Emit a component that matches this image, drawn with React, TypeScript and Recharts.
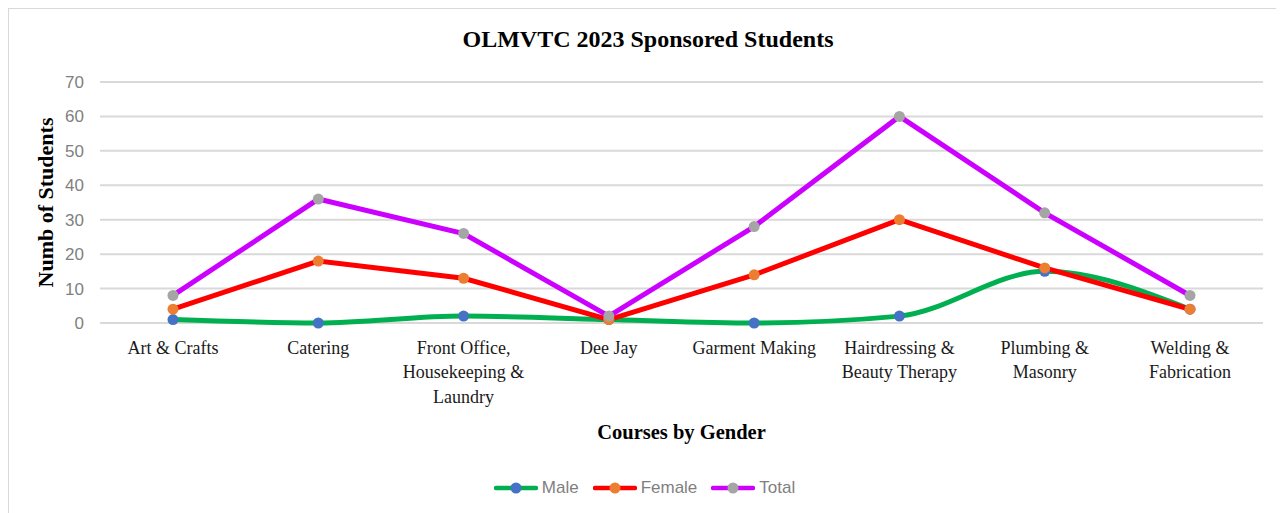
import { CartesianGrid, Legend, Line, LineChart, Text, XAxis, YAxis } from 'recharts';

// ---- data ----
const COURSES = [
  'Art & Crafts',
  'Catering',
  'Front Office, Housekeeping & Laundry',
  'Dee Jay',
  'Garment Making',
  'Hairdressing & Beauty Therapy',
  'Plumbing & Masonry',
  'Welding & Fabrication',
];
const MALE = [1, 0, 2, 1, 0, 2, 15, 4];
const FEMALE = [4, 18, 13, 1, 14, 30, 16, 4];
const TOTAL = [8, 36, 26, 2, 28, 60, 32, 8];
const Y_TICKS = [0, 10, 20, 30, 40, 50, 60, 70];

const SERIES = [
  { key: 'Male', line: '#00b050', dot: '#4472c4', curve: 'monotone' as const },
  { key: 'Female', line: '#ff0000', dot: '#ed7d31', curve: 'linear' as const },
  { key: 'Total', line: '#cc00ff', dot: '#a5a5a5', curve: 'linear' as const },
];

const data = COURSES.map((c, i) => ({
  course: c,
  Male: MALE[i],
  Female: FEMALE[i],
  Total: TOTAL[i],
}));

// ---- styles ----
const SERIF = '"Liberation Serif", "Times New Roman", serif';
const SANS = '"Liberation Sans", Arial, sans-serif';
const GRID = '#d9d9d9';
const AXIS_GRAY = '#7f7f7f';

function CourseTick(props: any) {
  const { x, y, payload } = props;
  return (
    <Text
      x={x}
      y={y}
      width={138}
      textAnchor="middle"
      verticalAnchor="start"
      lineHeight={24.5}
      fill="#1a1a1a"
      style={{ fontFamily: SERIF, fontSize: 18 }}
    >
      {payload.value}
    </Text>
  );
}

function LegendContent() {
  return (
    <div
      style={{
        height: 22,
        display: 'flex',
        justifyContent: 'center',
        alignItems: 'center',
        gap: 14,
        marginLeft: -14,
        fontFamily: SANS,
        fontSize: 17,
        color: AXIS_GRAY,
      }}
    >
      {SERIES.map((s) => (
        <span key={s.key} style={{ display: 'flex', alignItems: 'center', gap: 4 }}>
          <svg width={44} height={14}>
            <line x1={2} y1={7} x2={42} y2={7} stroke={s.line} strokeWidth={4.5} strokeLinecap="round" />
            <circle cx={22} cy={7} r={5.5} fill={s.dot} />
          </svg>
          {s.key}
        </span>
      ))}
    </div>
  );
}

export default function App() {
  return (
    <div
      style={{
        position: 'relative',
        width: 1272,
        height: 520,
        boxSizing: 'border-box',
        border: `1px solid ${GRID}`,
        background: '#fff',
      }}
    >
      <div
        style={{
          position: 'absolute',
          top: 17,
          left: 0,
          width: 1278,
          textAlign: 'center',
          fontFamily: SERIF,
          fontWeight: 'bold',
          fontSize: 24,
          color: '#000',
        }}
      >
        OLMVTC 2023 Sponsored Students
      </div>
      <LineChart
        width={1270}
        height={504}
        data={data}
        margin={{ top: 73, right: 16, left: 31, bottom: 14 }}
      >
        <CartesianGrid vertical={false} stroke={GRID} strokeWidth={2} />
        <XAxis
          dataKey="course"
          axisLine={false}
          tickLine={false}
          tickSize={0}
          tickMargin={18}
          height={154}
          interval={0}
          padding={{ left: 73, right: 73 }}
          tick={<CourseTick />}
          label={{
            value: 'Courses by Gender',
            position: 'insideBottom',
            offset: 38,
            style: { fontFamily: SERIF, fontWeight: 'bold', fontSize: 20.5, fill: '#000' },
          }}
        />
        <YAxis
          domain={[0, 70]}
          ticks={Y_TICKS}
          axisLine={false}
          tickLine={false}
          tickSize={0}
          tickMargin={16}
          width={60}
          tick={{ fontFamily: SANS, fontSize: 17, fill: AXIS_GRAY }}
          label={{
            value: 'Numb of Students',
            angle: -90,
            position: 'insideLeft',
            offset: 5,
            style: {
              fontFamily: SERIF,
              fontWeight: 'bold',
              fontSize: 22,
              fill: '#000',
              textAnchor: 'middle',
            },
          }}
        />
        <Legend verticalAlign="bottom" align="center" content={<LegendContent />} />
        {SERIES.map((s) => (
          <Line
            key={s.key}
            type={s.curve}
            dataKey={s.key}
            stroke={s.line}
            strokeWidth={5}
            dot={{ r: 5.5, fill: s.dot, stroke: s.dot, strokeWidth: 0 }}
            activeDot={false}
            isAnimationActive={false}
          />
        ))}
      </LineChart>
    </div>
  );
}
